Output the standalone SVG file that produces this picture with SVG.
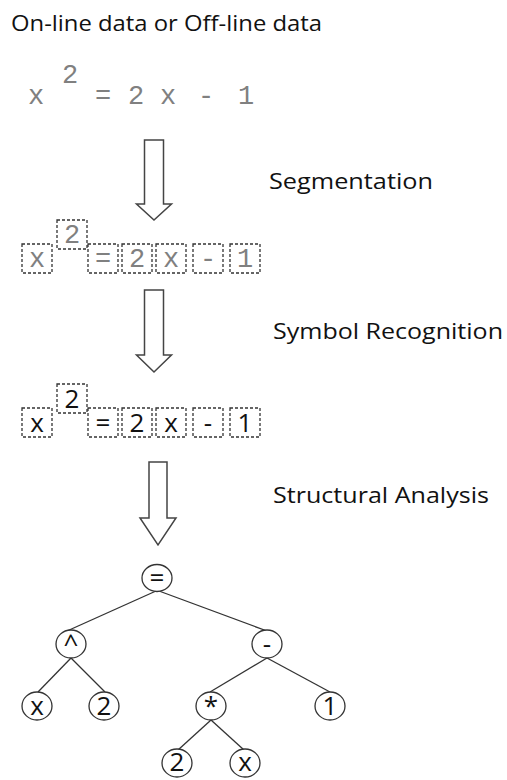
<svg xmlns="http://www.w3.org/2000/svg" width="507" height="780" viewBox="0 0 507 780">
<style>
.lbl{font-family:"Open Sans","DejaVu Sans",sans-serif;font-size:21px;fill:#111}
.hw{font-family:"Liberation Mono","DejaVu Sans Mono",monospace;font-size:27px;fill:#808080;text-anchor:middle}
.sym{font-family:"Open Sans","DejaVu Sans",sans-serif;font-size:26px;fill:#111;text-anchor:middle}
.box{fill:none;stroke:#333;stroke-width:1.3;stroke-dasharray:3 2}
.arrow{fill:#fff;stroke:#444;stroke-width:1.5;stroke-linejoin:miter}
.node ellipse{fill:#fff;stroke:#333;stroke-width:1.3}
.edge{stroke:#333;stroke-width:1.3;fill:none}
</style>
<rect width="507" height="780" fill="#fff"/>
<text class="lbl" x="11" y="31" textLength="311" lengthAdjust="spacingAndGlyphs">On-line data or Off-line data</text>
<g id="input">
<text class="hw" x="36" y="104">x</text>
<text class="hw" x="70" y="83">2</text>
<text class="hw" x="103" y="104">=</text>
<text class="hw" x="136" y="104">2</text>
<text class="hw" x="168" y="104">x</text>
<text class="hw" x="206" y="104">-</text>
<text class="hw" x="246" y="104">1</text>
</g>
<g id="arrows">
<polygon id="arrow1" class="arrow" points="144.5,140 163.5,140 163.5,204 171.5,204 154,220 136.5,204 144.5,204"/>
<polygon id="arrow2" class="arrow" points="144.5,290 163.5,290 163.5,355 171.5,355 154,372 136.5,355 144.5,355"/>
<polygon id="arrow3" class="arrow" points="149,462 167,462 167,518 176,518 158,545 140,518 149,518"/>
</g>
<text class="lbl" x="269" y="189" textLength="164" lengthAdjust="spacingAndGlyphs">Segmentation</text>
<text class="lbl" x="273" y="339" textLength="230" lengthAdjust="spacingAndGlyphs">Symbol Recognition</text>
<text class="lbl" x="273" y="503" textLength="216" lengthAdjust="spacingAndGlyphs">Structural Analysis</text>
<g id="segmentation">
<rect class="box" x="22" y="244" width="30" height="29"/><text class="hw" x="37" y="267">x</text>
<rect class="box" x="57" y="220" width="30" height="29"/><text class="hw" x="72" y="243">2</text>
<rect class="box" x="88" y="244" width="30" height="29"/><text class="hw" x="103" y="267">=</text>
<rect class="box" x="122" y="244" width="30" height="29"/><text class="hw" x="137" y="267">2</text>
<rect class="box" x="156" y="244" width="30" height="29"/><text class="hw" x="171" y="267">x</text>
<rect class="box" x="193" y="244" width="30" height="29"/><text class="hw" x="208" y="267">-</text>
<rect class="box" x="230" y="244" width="30" height="29"/><text class="hw" x="245" y="267">1</text>
</g>
<g id="recognition">
<rect class="box" x="22" y="408" width="30" height="29"/><text class="sym" x="37" y="432">x</text>
<rect class="box" x="57" y="384" width="30" height="29"/><text class="sym" x="72" y="408">2</text>
<rect class="box" x="88" y="408" width="30" height="29"/><text class="sym" x="103" y="432">=</text>
<rect class="box" x="122" y="408" width="30" height="29"/><text class="sym" x="137" y="432">2</text>
<rect class="box" x="156" y="408" width="30" height="29"/><text class="sym" x="171" y="432">x</text>
<rect class="box" x="193" y="408" width="30" height="29"/><text class="sym" x="208" y="432">-</text>
<rect class="box" x="230" y="408" width="30" height="29"/><text class="sym" x="245" y="432">1</text>
</g>
<g id="edges">
<line class="edge" x1="156" y1="591" x2="67" y2="631"/>
<line class="edge" x1="159" y1="591" x2="267" y2="631"/>
<line class="edge" x1="71" y1="658" x2="38" y2="692"/>
<line class="edge" x1="71" y1="658" x2="105" y2="692"/>
<line class="edge" x1="267" y1="658" x2="210" y2="692"/>
<line class="edge" x1="267" y1="658" x2="330" y2="692"/>
<line class="edge" x1="211" y1="720" x2="178" y2="750"/>
<line class="edge" x1="211" y1="720" x2="244" y2="750"/>
</g>
<g id="n_eq" class="node"><ellipse cx="157" cy="578" rx="15" ry="13.5"/><text class="sym" x="157" y="587">=</text></g>
<g id="n_pow" class="node"><ellipse cx="71" cy="644" rx="15" ry="14"/><text class="sym" x="71" y="653">^</text></g>
<g id="n_minus" class="node"><ellipse cx="267" cy="644" rx="15" ry="14"/><text class="sym" x="267" y="653">-</text></g>
<g id="n_x1" class="node"><ellipse cx="37" cy="706" rx="15" ry="14"/><text class="sym" x="37" y="715">x</text></g>
<g id="n_2a" class="node"><ellipse cx="104" cy="706" rx="15" ry="14"/><text class="sym" x="104" y="715">2</text></g>
<g id="n_mul" class="node"><ellipse cx="211" cy="706" rx="15" ry="14"/><text class="sym" x="211" y="715">*</text></g>
<g id="n_1" class="node"><ellipse cx="330" cy="706" rx="15" ry="14"/><text class="sym" x="330" y="715">1</text></g>
<g id="n_2b" class="node"><ellipse cx="177" cy="763" rx="15" ry="14"/><text class="sym" x="177" y="771">2</text></g>
<g id="n_x2" class="node"><ellipse cx="245" cy="763" rx="15" ry="14"/><text class="sym" x="245" y="771">x</text></g>
</svg>
